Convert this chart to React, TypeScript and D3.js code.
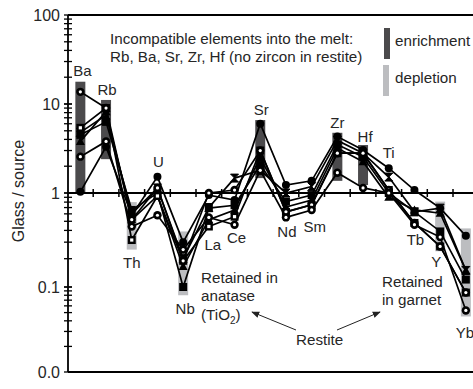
import React from "react";
import * as d3 from "d3";

const elements = ["Ba","Rb","Th","U","Nb","La","Ce","Sr","Nd","Sm","Zr","Hf","Ti","Tb","Y","Yb"];

// label anchor values (data units) and horizontal nudges
const labelValues = [20.6,12.6,0.159,1.96,0.048,0.248,0.294,7.5,0.34,0.385,5.37,3.74,2.47,0.28,0.163,0.025];
const labelNudge = [2,1,0,1,2,4,2,1,1,3,0,2,0,1,-4,-1];

// shaded ranges
const enrichment: [string, number, number][] = [
  ["Ba", 1.0, 17.8], ["Rb", 2.4, 11.1], ["Sr", 1.47, 6.6], ["Zr", 1.37, 4.75], ["Hf", 1.23, 3.46],
];
const depletion: [string, number, number][] = [
  ["Th", 0.25, 0.8], ["Nb", 0.08, 0.39], ["Y", 0.24, 0.81], ["Yb", 0.045, 0.42],
];

// samples (Glass/source)
const sOpenCircleLow = [2.56,3.8,0.44,0.58,0.25,0.55,0.46,1.8,0.55,0.66,1.69,1.14,1.0,0.46,0.34,0.053];
const sOpenCircleHigh = [13.7,9.0,0.52,1.14,0.19,1.0,1.08,3.0,0.63,0.75,2.8,2.8,1.08,0.48,0.27,0.086];
const sFilledCircle = [1.03,3.3,0.58,1.52,0.30,0.95,0.84,6.0,1.23,1.37,4.3,3.04,1.9,1.08,0.69,0.35];
const sFilledSquare = [4.5,6.3,0.66,1.0,0.10,0.69,0.74,2.06,0.81,0.95,3.5,2.54,1.0,0.63,0.39,0.12];
const sTriangle = [3.8,8.2,0.52,0.93,0.165,0.52,0.66,2.5,0.71,0.84,3.2,2.25,0.9,0.66,0.61,0.15];
const sOpenSquare = [5.4,9.0,0.316,0.93,0.19,0.44,0.56,3.0,0.63,0.75,2.8,2.8,1.08,0.48,0.27,0.086];
const sBowtie = [4.8,7.5,0.6,1.14,0.2,0.7,1.47,1.8,1.0,1.18,3.9,2.8,1.51,0.63,0.69,0.15];

const series = [
  { values: sFilledCircle, marker: "circle" },
  { values: sFilledSquare, marker: "square" },
  { values: sTriangle, marker: "triangle" },
  { values: sBowtie, marker: "bowtie" },
  { values: sOpenSquare, marker: "openSquare" },
  { values: sOpenCircleHigh, marker: "openCircle" },
  { values: sOpenCircleLow, marker: "openCircle" },
];

const yTickValues = [100, 10, 1, 0.1, 0.01];
const yTickLabels = ["100", "10", "1", "0.1", "0.0"];

const W = 473, H = 389;
const axisX = 68, topY = 15, botY = 372;
const FONT = "'Liberation Sans', Arial, sans-serif";
const TXT = "#262626";
const AF = 15.2;

export default function App() {
  const x = d3.scaleBand<string>().domain(elements).range([67.5, 67.5 + 25.7 * 16]).paddingInner(0).paddingOuter(0);
  const y = d3.scaleLog().domain([0.01, 0.1, 1, 10, 100]).range([372, 287, 193, 104, 15]);
  const cx = (e: string) => (x(e) as number) + x.bandwidth() / 2;

  const minorTicks: number[] = [];
  for (let dec = 0.01; dec < 100; dec *= 10) {
    for (let k = 1; k <= 10; k++) minorTicks.push(+(dec * k).toPrecision(3));
  }

  const line = d3.line<number>().x((_, i) => cx(elements[i])).y((v) => y(v));

  const marker = (m: string, px: number, py: number, key: string) => {
    switch (m) {
      case "circle":
        return <circle key={key} cx={px} cy={py} r={4} fill="#000" />;
      case "openCircle":
        return (
          <g key={key}>
            <circle cx={px} cy={py} r={4.2} fill="#000" />
            <circle cx={px} cy={py} r={1.6} fill="#fff" />
          </g>
        );
      case "square":
        return <rect key={key} x={px - 4} y={py - 4} width={8} height={8} fill="#000" />;
      case "openSquare":
        return (
          <g key={key}>
            <rect x={px - 4} y={py - 4} width={8} height={8} fill="#000" />
            <rect x={px - 1.6} y={py - 1.6} width={3.2} height={3.2} fill="#fff" />
          </g>
        );
      case "triangle":
        return <path key={key} d={`M${px},${py - 4.5}L${px + 4.5},${py + 3.5}L${px - 4.5},${py + 3.5}Z`} fill="#000" />;
      case "bowtie":
        return <path key={key} d={`M${px - 4},${py - 4}L${px + 4},${py - 4}L${px},${py}L${px + 4},${py + 4}L${px - 4},${py + 4}L${px},${py}Z`} fill="#000" stroke="#000" strokeWidth={1} />;
      default:
        return null;
    }
  };

  const bandEdges = elements.slice(1).map((e) => x(e) as number);

  return (
    <svg width={W} height={H} style={{ position: "absolute", left: 0, top: 0, background: "#fff" }} fontFamily={FONT}>
      <defs>
        <marker id="ah" viewBox="0 0 10 10" refX="9" refY="5" markerWidth="8" markerHeight="8" orient="auto-start-reverse" markerUnits="userSpaceOnUse">
          <path d="M0,1L10,5L0,9Z" fill="#222" />
        </marker>
      </defs>

      {/* shaded bars */}
      {enrichment.map(([e, lo, hi]) => (
        <rect key={"en" + e} x={cx(e) - 5} y={y(hi)} width={10} height={y(lo) - y(hi)} fill="#4b4a4c" />
      ))}
      {depletion.map(([e, lo, hi]) => (
        <rect key={"de" + e} x={cx(e) - 5} y={y(hi)} width={10} height={y(lo) - y(hi)} fill="#bcbdc0" />
      ))}

      {/* frame */}
      <line x1={axisX} x2={W} y1={topY} y2={topY} stroke="#000" strokeWidth={1.8} />
      <line x1={axisX} x2={W} y1={botY} y2={botY} stroke="#000" strokeWidth={1.8} />
      <line x1={axisX} x2={W} y1={y(1)} y2={y(1)} stroke="#000" strokeWidth={1.8} />
      {bandEdges.map((bx, i) => (
        <line key={"bt" + i} x1={bx} x2={bx} y1={y(1) - 4} y2={y(1) + 4} stroke="#000" strokeWidth={1.5} />
      ))}
      <line x1={axisX} x2={axisX} y1={topY} y2={botY} stroke="#000" strokeWidth={1.8} />
      {minorTicks.map((t, i) => (
        <line key={"mt" + i} x1={axisX - 4} x2={axisX + 4} y1={y(t)} y2={y(t)} stroke="#000" strokeWidth={1.3} />
      ))}
      {yTickValues.map((t, i) => (
        <text key={"yl" + i} x={60} y={y(t)} dy="0.36em" textAnchor="end" fontSize={16} fill={TXT}>
          {yTickLabels[i]}
        </text>
      ))}
      <text transform={`translate(24,${y(1) - 2}) rotate(-90)`} textAnchor="middle" fontSize={16} fill={TXT}>
        Glass / source
      </text>

      {/* series */}
      {series.map((s, si) => (
        <path key={"ln" + si} d={line(s.values) as string} fill="none" stroke="#000" strokeWidth={1.7} />
      ))}
      {series.map((s, si) => s.values.map((v, i) => marker(s.marker, cx(elements[i]), y(v), `m${si}-${i}`)))}

      {/* element labels */}
      {elements.map((e, i) => (
        <text key={"el" + e} x={cx(e) + labelNudge[i]} y={y(labelValues[i])} textAnchor="middle" fontSize={15} fill={TXT}>
          {e}
        </text>
      ))}

      {/* annotations */}
      <text x={110} y={44} fontSize={AF} fill={TXT}>Incompatible elements into the melt:</text>
      <text x={110} y={62} fontSize={AF} fill={TXT}>Rb, Ba, Sr, Zr, Hf (no zircon in restite)</text>

      <rect x={384} y={28} width={6} height={31} fill="#4b4a4c" />
      <text x={395} y={46} fontSize={AF} fill={TXT}>enrichment</text>
      <rect x={383} y={65} width={6} height={31} fill="#bcbdc0" />
      <text x={395} y={83} fontSize={AF} fill={TXT}>depletion</text>

      <text x={201} y={283} fontSize={AF} fill={TXT}>Retained in</text>
      <text x={201} y={301} fontSize={AF} fill={TXT}>anatase</text>
      <text x={201} y={320} fontSize={AF} fill={TXT}>
        (TiO<tspan fontSize={10} dy={4}>2</tspan><tspan dy={-4}>)</tspan>
      </text>

      <text x={382} y={287} fontSize={AF} fill={TXT}>Retained</text>
      <text x={382} y={305} fontSize={AF} fill={TXT}>in garnet</text>

      <text x={296} y={345} fontSize={AF} fill={TXT}>Restite</text>
      <line x1={296} y1={330} x2={252} y2={312} stroke="#222" strokeWidth={1} markerEnd="url(#ah)" />
      <line x1={337} y1={330} x2={380} y2={312} stroke="#222" strokeWidth={1} markerEnd="url(#ah)" />
    </svg>
  );
}
